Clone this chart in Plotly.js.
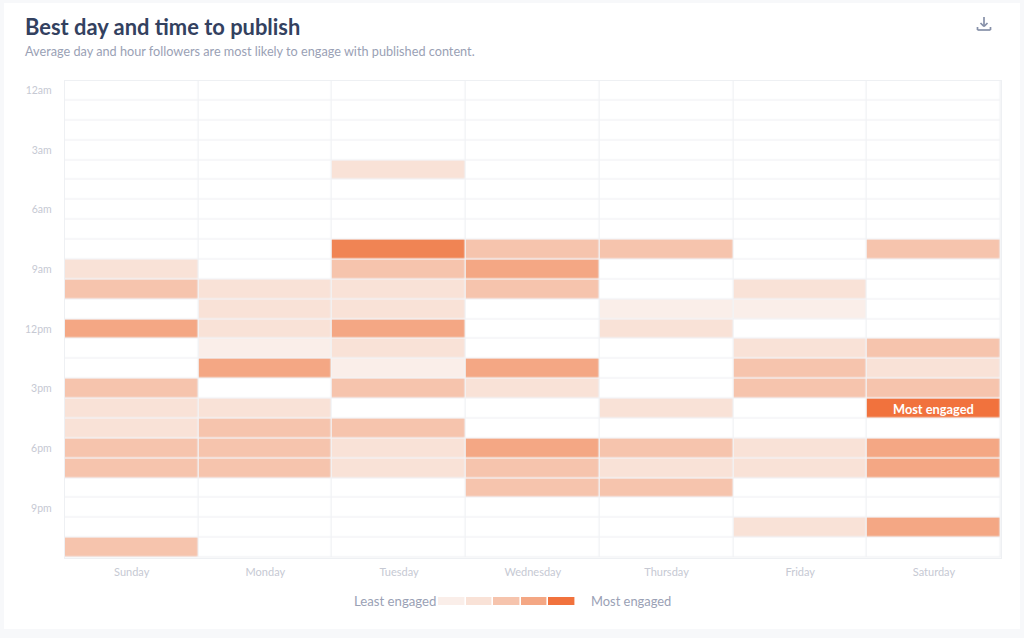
<!DOCTYPE html>
<html><head><meta charset="utf-8">
<script src="https://cdn.plot.ly/plotly-3.0.1.min.js"></script>
<style>html,body{margin:0;padding:0;background:#f7f8fa;overflow:hidden}
#card{position:absolute;left:4px;top:3px;width:1016px;height:626px;background:#fff}
#c{position:absolute;left:0;top:0;width:1024px;height:638px}</style>
</head><body><div id="card"></div><div id="c"></div>
<script>
const days = ['Sunday','Monday','Tuesday','Wednesday','Thursday','Friday','Saturday'];
const hours = ['12am','1am','2am','3am','4am','5am','6am','7am','8am','9am','10am','11am','12pm','1pm','2pm','3pm','4pm','5pm','6pm','7pm','8pm','9pm','10pm','11pm'];
const hourTicks = ['12am','3am','6am','9am','12pm','3pm','6pm','9pm'];
const engagement = [
 [0,0,0,0,0,0,0],
 [0,0,0,0,0,0,0],
 [0,0,0,0,0,0,0],
 [0,0,0,0,0,0,0],
 [0,0,2,0,0,0,0],
 [0,0,0,0,0,0,0],
 [0,0,0,0,0,0,0],
 [0,0,0,0,0,0,0],
 [0,0,5,3,3,0,3],
 [2,0,3,4,0,0,0],
 [3,2,2,3,0,2,0],
 [0,2,2,0,1,1,0],
 [4,2,4,0,2,0,0],
 [0,1,2,0,0,2,3],
 [0,4,1,4,0,3,2],
 [3,0,3,2,0,3,3],
 [2,2,0,0,2,0,6],
 [2,3,3,0,0,0,0],
 [3,3,2,4,3,2,4],
 [3,3,2,3,2,2,4],
 [0,0,0,3,3,0,0],
 [0,0,0,0,0,0,0],
 [0,0,0,0,0,2,4],
 [3,0,0,0,0,0,0]
];
const legendLevels = [1,2,3,4,6];
const legendSlots = ['a','b','c','d','e'];
const levelColors = ['#ffffff','#faeee9','#f9e2d7','#f6c4ad','#f4a784','#f08454','#f1723d'];

const colorscale = [];
levelColors.forEach((c,i)=>{colorscale.push([i/7,c]);colorscale.push([(i+1)/7,c]);});
const W=1024,H=638;
const px = x => x/W;
const py = y => 1-y/H;
const font = 'Lato, "Noto Sans", sans-serif';

const traces = [
 {type:'heatmap',x:days,y:hours,z:engagement,zmin:-0.5,zmax:6.5,colorscale,showscale:false,xgap:1.4,ygap:1.4,hoverinfo:'skip'},
 {type:'heatmap',x:legendSlots,y:['l'],z:[legendLevels],zmin:-0.5,zmax:6.5,colorscale,showscale:false,xgap:1.6,ygap:0,xaxis:'x2',yaxis:'y2',hoverinfo:'skip'}
];
const iconLine = (x0,y0,x1,y1)=>({type:'line',xref:'paper',yref:'paper',x0:px(x0),y0:py(y0),x1:px(x1),y1:py(y1),line:{color:'#8690a8',width:1.7}});
const layout = {
 width:W,height:H,margin:{l:0,r:0,t:0,b:0},
 paper_bgcolor:'rgba(0,0,0,0)',plot_bgcolor:'#f2f3f6',
 font:{family:font},
 showlegend:false,
 title:{text:'<b>Best day and time to publish</b>',x:25/W,xanchor:'left',y:1-27/H,yanchor:'middle',font:{family:font,size:21.9,color:'#33415f'}},
 xaxis:{type:'category',categoryarray:days,domain:[px(64.8),px(1000.8)],range:[-0.5,6.5],fixedrange:true,showgrid:false,zeroline:false,showline:true,linecolor:'#eef0f3',linewidth:1,mirror:true,ticks:'',tickfont:{size:11,color:'#c6c9d3',family:font},ticklabelstandoff:4},
 yaxis:{type:'category',categoryarray:hours,domain:[py(557.6),py(80.6)],range:[23.5,-0.5],tickmode:'array',tickvals:hourTicks,ticktext:hourTicks,fixedrange:true,showgrid:false,zeroline:false,showline:true,linecolor:'#eef0f3',linewidth:1,mirror:true,ticks:'',tickfont:{size:10.5,color:'#c6c9d3',family:font},ticklabelstandoff:10},
 xaxis2:{type:'category',domain:[px(438),px(576)],anchor:'y2',range:[-0.5,4.5],visible:false,fixedrange:true},
 yaxis2:{type:'category',domain:[py(605),py(597)],anchor:'x2',range:[-0.5,0.5],visible:false,fixedrange:true},
 shapes:[
  {type:'rect',layer:'below',xref:'paper',yref:'paper',x0:px(436),x1:px(578),y0:py(607),y1:py(595),fillcolor:'#ffffff',line:{width:0}},
  iconLine(984,17,984,26),iconLine(980.5,23,984,26.5),iconLine(987.5,23,984,26.5),
  iconLine(977.5,27,977.5,30),iconLine(977.5,30,990.5,30),iconLine(990.5,30,990.5,27)
 ],
 annotations:[
  {xref:'paper',yref:'paper',x:px(23),y:py(51),xanchor:'left',yanchor:'middle',showarrow:false,text:'Average day and hour followers are most likely to engage with published content.',font:{size:12.7,color:'#9aa1b5',family:font}},
  {x:'Saturday',y:'4pm',xref:'x',yref:'y',showarrow:false,text:'<b>Most engaged</b>',font:{size:12.8,color:'#ffffff',family:font}},
  {xref:'paper',yref:'paper',x:px(438),y:py(601),xanchor:'right',yanchor:'middle',showarrow:false,text:'Least engaged',font:{size:13.2,color:'#9aa1b5',family:font}},
  {xref:'paper',yref:'paper',x:px(588.5),y:py(601),xanchor:'left',yanchor:'middle',showarrow:false,text:'Most engaged',font:{size:12.9,color:'#9aa1b5',family:font}}
 ]
};
Plotly.newPlot('c',traces,layout,{displayModeBar:false,responsive:false});
</script></body></html>
